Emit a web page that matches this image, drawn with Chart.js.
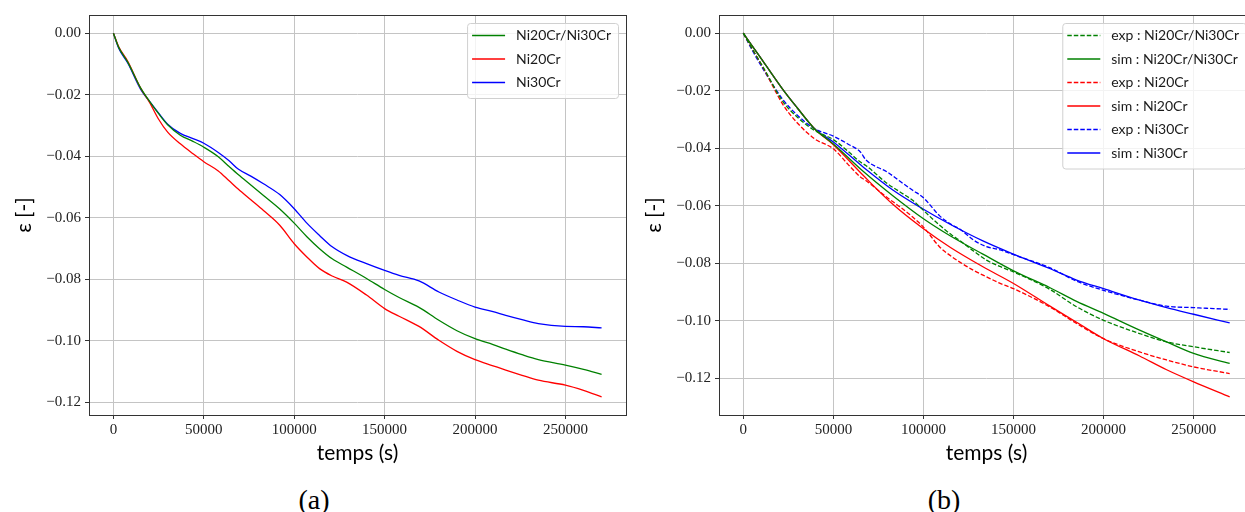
<!DOCTYPE html>
<html>
<head>
<meta charset="utf-8">
<script src="https://cdn.jsdelivr.net/npm/chart.js"></script>
<style>
  html, body { margin: 0; padding: 0; background: #fff; overflow: hidden; width: 1245px; height: 512px; }
  canvas { position: absolute; top: 0; }
  #chartA { left: 0; }
  #chartB { left: 630px; }
  .caption { position: absolute; top: 484px; width: 60px; line-height: 32px; text-align: center;
             font-family: 'Liberation Serif', serif; font-size: 28px; color: #000; }
</style>
</head>
<body>
<canvas id="chartA" width="640" height="480"></canvas>
<canvas id="chartB" width="640" height="480"></canvas>
<div class="caption" style="left:284px">(a)</div>
<div class="caption" style="left:914px">(b)</div>
<script>
'use strict';

// Tick labels shared by both plots
var xTicks = [0, 50000, 100000, 150000, 200000, 250000];
var yTicks = [0, -0.02, -0.04, -0.06, -0.08, -0.10, -0.12];

// (a) measured strain
var timeA = [0, 3000, 8000, 15000, 20000, 25000, 30000, 37000, 44000, 50000, 58000, 64000, 69000, 76000,
  83000, 92000, 100000, 107000, 114000, 121000, 129000, 140000, 150000, 158000, 169000, 180000, 190000,
  200000, 210000, 217000, 226000, 235000, 250000, 260000, 270000];
var mixedA = [0, -0.0047, -0.0095, -0.0178, -0.0222, -0.0262, -0.0298, -0.0332, -0.0352, -0.0371, -0.0402,
  -0.0434, -0.046, -0.0494, -0.0528, -0.0572, -0.0618, -0.0662, -0.0701, -0.0734, -0.0761, -0.0798, -0.0834,
  -0.086, -0.0892, -0.0934, -0.0968, -0.0994, -0.1013, -0.1028, -0.1046, -0.1062, -0.108, -0.1094, -0.111];
var ni20A = [0, -0.0045, -0.0092, -0.0178, -0.0225, -0.028, -0.0322, -0.036, -0.0392, -0.0418, -0.0448,
  -0.048, -0.0507, -0.0542, -0.0577, -0.0625, -0.0685, -0.0728, -0.0766, -0.079, -0.081, -0.0852, -0.0896,
  -0.0921, -0.0954, -0.0999, -0.1035, -0.1062, -0.1082, -0.1096, -0.1113, -0.1129, -0.1145, -0.1162, -0.1183];
var ni30A = [0, -0.005, -0.0098, -0.0182, -0.0222, -0.026, -0.0296, -0.0326, -0.0343, -0.0358, -0.0388,
  -0.0415, -0.0442, -0.0465, -0.049, -0.0525, -0.0571, -0.0618, -0.0658, -0.0695, -0.0723, -0.075, -0.0772,
  -0.0788, -0.0806, -0.0842, -0.0868, -0.0891, -0.0906, -0.0918, -0.0932, -0.0945, -0.0954, -0.0955, -0.0959];

// (b) experiment
var timeExp = [0, 5000, 11000, 22000, 30000, 39500, 50000, 58000, 65000, 68000, 80000, 87000, 94000, 100000,
  109000, 116000, 120000, 128000, 135000, 142000, 150000, 170000, 185000, 200000, 220000, 235000, 250000, 270000];
var mixedExp = [0, -0.0055, -0.0118, -0.0238, -0.0292, -0.0338, -0.037, -0.041, -0.0448, -0.046, -0.0523,
  -0.0552, -0.0581, -0.0616, -0.0668, -0.0703, -0.072, -0.0758, -0.0789, -0.081, -0.083, -0.089, -0.0951,
  -0.0998, -0.1044, -0.1073, -0.109, -0.111];
var ni20Exp = [0, -0.0055, -0.012, -0.0248, -0.0312, -0.0367, -0.0402, -0.0455, -0.05, -0.0512, -0.0572,
  -0.0604, -0.0639, -0.0674, -0.0743, -0.0778, -0.0795, -0.0825, -0.0847, -0.0868, -0.0888, -0.0951, -0.1009,
  -0.1062, -0.1108, -0.1136, -0.116, -0.1183];
var ni30Exp = [0, -0.006, -0.0125, -0.0231, -0.0285, -0.0332, -0.0358, -0.0385, -0.0413, -0.044, -0.0483,
  -0.0515, -0.0546, -0.0572, -0.0635, -0.0667, -0.068, -0.072, -0.0742, -0.0752, -0.077, -0.0815, -0.0862,
  -0.0894, -0.0928, -0.0949, -0.0954, -0.096];

// (b) simulation
var timeSim = [0, 5000, 11000, 22000, 30000, 39500, 50000, 66500, 83000, 100000, 115000, 133000, 150000,
  170000, 185000, 200000, 220000, 235000, 250000, 270000];
var mixedSim = [0, -0.0045, -0.0098, -0.0196, -0.026, -0.0332, -0.0385, -0.048, -0.0565, -0.0645, -0.0705,
  -0.0768, -0.0826, -0.0884, -0.0932, -0.0974, -0.1032, -0.1073, -0.1113, -0.1148];
var ni20Sim = [0, -0.0045, -0.0098, -0.0196, -0.026, -0.0332, -0.0388, -0.0494, -0.0595, -0.068, -0.0745,
  -0.0812, -0.087, -0.0948, -0.1005, -0.1062, -0.1122, -0.117, -0.1212, -0.1264];
var ni30Sim = [0, -0.0045, -0.0098, -0.0196, -0.026, -0.0332, -0.0378, -0.0465, -0.0545, -0.0612, -0.0665,
  -0.0722, -0.0768, -0.0818, -0.0858, -0.0888, -0.0928, -0.0954, -0.0977, -0.1007];

var GREEN = '#008000', RED = '#ff0000', BLUE = '#0000ff';
var DASH = [4.5, 2];

var toPoints = function(xs, ys) {
  return xs.map(function(x, i) { return {x: x, y: ys[i]}; });
};

var line = function(label, xs, ys, color, dashed) {
  return {
    label: label,
    data: toPoints(xs, ys),
    borderColor: color,
    borderWidth: 1.3,
    borderDash: dashed ? DASH : [],
    pointRadius: 0,
    fill: false,
    cubicInterpolationMode: 'monotone'
  };
};

// matplotlib-like 5% margins around the data
var range = function(lists, pad) {
  var all = [].concat.apply([], lists);
  var lo = Math.min.apply(null, all), hi = Math.max.apply(null, all);
  var m = (hi - lo) * pad;
  return {min: lo - m, max: hi + m};
};

/**
 * Draws the axes frame and an upper right legend box.
 */
var frameLegend = {
  id: 'frameLegend',
  afterDraw: function(chart) {
    var ctx = chart.ctx;
    var a = chart.chartArea;
    ctx.save();
    ctx.strokeStyle = '#333';
    ctx.lineWidth = 1;
    ctx.strokeRect(Math.round(a.left) + 0.5, Math.round(a.top) + 0.5,
      Math.round(a.right - a.left), Math.round(a.bottom - a.top));

    var sets = chart.data.datasets;
    ctx.font = '14px Lato, "DejaVu Sans", sans-serif';
    var textW = 0;
    sets.forEach(function(ds) { textW = Math.max(textW, ctx.measureText(ds.label).width); });
    var rowH = 23.5;
    var w = textW + 56;
    var h = (sets.length - 1) * rowH + 28;
    var x = a.right - 8 - w;
    var y = a.top + 8;

    ctx.beginPath();
    ctx.roundRect(x + 0.5, y + 0.5, w, h, 3);
    ctx.fillStyle = 'rgba(255,255,255,0.8)';
    ctx.fill();
    ctx.strokeStyle = '#d0d0d0';
    ctx.stroke();

    sets.forEach(function(ds, i) {
      var cy = y + 12.5 + i * rowH;
      ctx.beginPath();
      ctx.setLineDash(ds.borderDash || []);
      ctx.strokeStyle = ds.borderColor;
      ctx.lineWidth = 1.3;
      ctx.moveTo(x + 5, cy);
      ctx.lineTo(x + 38, cy);
      ctx.stroke();
      ctx.setLineDash([]);
      ctx.fillStyle = '#1a1a1a';
      ctx.textBaseline = 'middle';
      ctx.fillText(ds.label, x + 49, cy);
    });
    ctx.restore();
  }
};

var makeChart = function(id, datasets, yRange, padRight) {
  var xRange = range([[0, 270000]], 0.05);
  return new Chart(document.getElementById(id), {
    type: 'line',
    data: {datasets: datasets},
    plugins: [frameLegend],
    options: {
      responsive: false,
      animation: false,
      devicePixelRatio: 1,
      layout: {padding: {top: 15, right: padRight, left: 0, bottom: 0}},
      plugins: {legend: {display: false}, tooltip: {enabled: false}},
      scales: {
        x: {
          type: 'linear',
          min: xRange.min,
          max: xRange.max,
          afterBuildTicks: function(s) { s.ticks = xTicks.map(function(v) { return {value: v}; }); },
          afterFit: function(s) { s.height = 65; },
          ticks: {
            padding: 2,
            color: '#222',
            maxRotation: 0,
            font: {family: '"Liberation Serif", serif', size: 15},
            callback: function(v) { return String(v); }
          },
          grid: {color: '#c4c4c4', lineWidth: 1, tickLength: 4, tickColor: '#333'},
          border: {display: false},
          title: {
            display: true,
            text: 'temps (s)',
            color: '#000',
            font: {family: 'Lato, sans-serif', size: 21},
            padding: {top: 4, bottom: 14}
          }
        },
        y: {
          type: 'linear',
          min: yRange.min,
          max: yRange.max,
          afterBuildTicks: function(s) { s.ticks = yTicks.map(function(v) { return {value: v}; }); },
          afterFit: function(s) { s.width = 89; },
          ticks: {
            padding: 4,
            color: '#222',
            font: {family: '"Liberation Serif", serif', size: 15},
            callback: function(v) {
              var t = Math.abs(v).toFixed(2);
              return v < -1e-9 ? '\u2212' + t : t;
            }
          },
          grid: {color: '#c4c4c4', lineWidth: 1, tickLength: 4, tickColor: '#333'},
          border: {display: false},
          title: {
            display: true,
            text: '\u03b5 [-]',
            color: '#000',
            font: {family: 'Lato, "DejaVu Serif", serif', size: 21},
            padding: 12
          }
        }
      }
    }
  });
};

makeChart('chartA', [
  line('Ni20Cr/Ni30Cr', timeA, mixedA, GREEN, false),
  line('Ni20Cr', timeA, ni20A, RED, false),
  line('Ni30Cr', timeA, ni30A, BLUE, false)
], range([mixedA, ni20A, ni30A], 0.05), 14);

makeChart('chartB', [
  line('exp : Ni20Cr/Ni30Cr', timeExp, mixedExp, GREEN, true),
  line('sim : Ni20Cr/Ni30Cr', timeSim, mixedSim, GREEN, false),
  line('exp : Ni20Cr', timeExp, ni20Exp, RED, true),
  line('sim : Ni20Cr', timeSim, ni20Sim, RED, false),
  line('exp : Ni30Cr', timeExp, ni30Exp, BLUE, true),
  line('sim : Ni30Cr', timeSim, ni30Sim, BLUE, false)
], range([mixedExp, ni20Exp, ni30Exp, mixedSim, ni20Sim, ni30Sim], 0.05), 16);
</script>
</body>
</html>
